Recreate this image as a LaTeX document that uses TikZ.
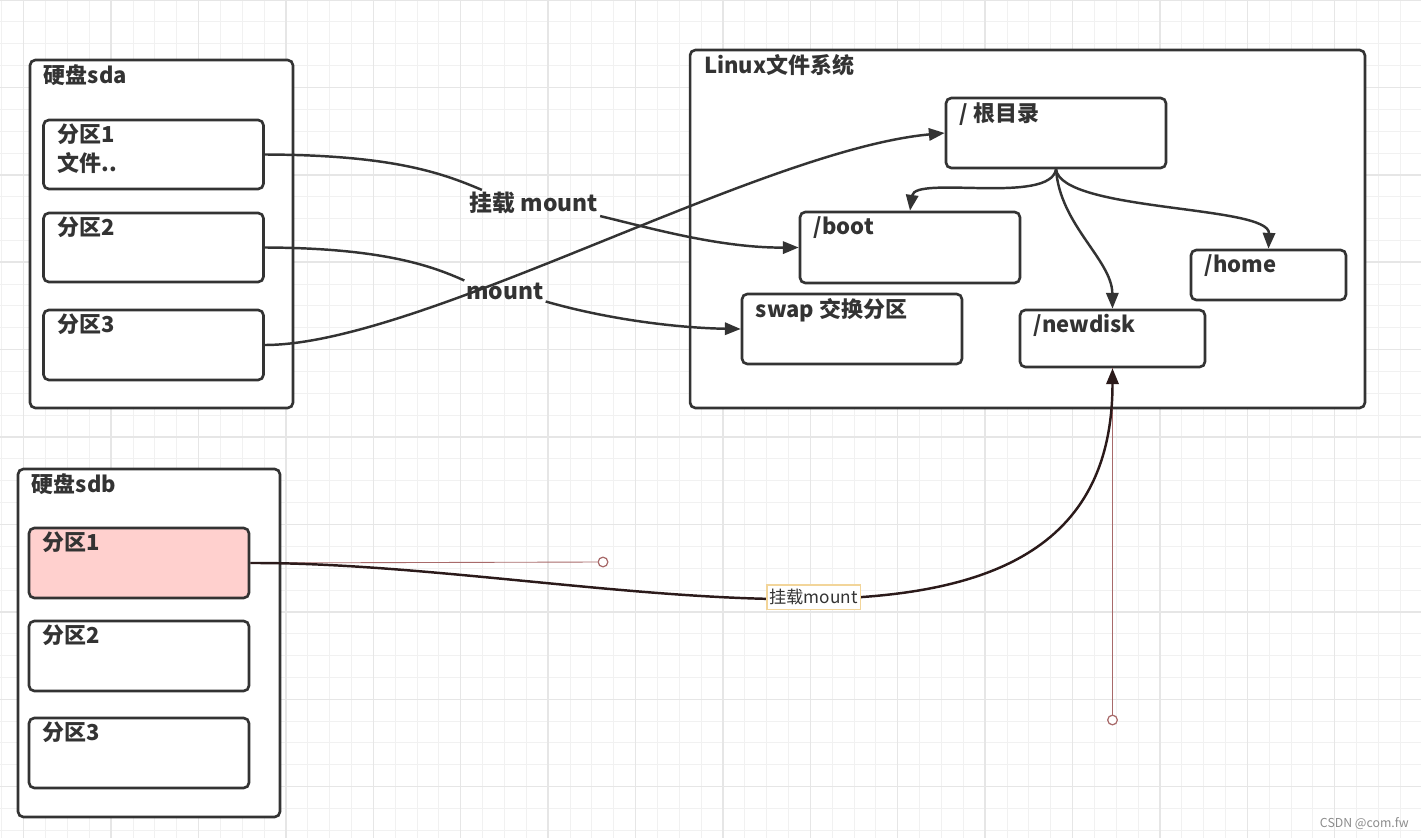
\documentclass[tikz,border=0pt]{standalone}
\usepackage{fontspec}
\setmainfont{Noto Sans CJK SC}
\usetikzlibrary{arrows.meta}
\definecolor{ink}{HTML}{333333}
\definecolor{selink}{HTML}{2B1A1A}
\definecolor{minorgrid}{HTML}{F1F1F1}
\definecolor{majorgrid}{HTML}{E6E6E6}
\definecolor{partpink}{HTML}{FFD0CE}
\definecolor{handlered}{HTML}{A86A6A}
\definecolor{tagedge}{HTML}{F2D59A}
\tikzset{
  gridminor/.style={draw=minorgrid, line width=0.5pt},
  gridmajor/.style={draw=majorgrid, line width=0.8pt},
  frame/.style={draw=ink, line width=1.5pt, rounded corners=3pt, fill=white, inner sep=0pt},
  part/.style={frame, minimum width=4.4cm, minimum height=1.4cm},
  title/.style={anchor=north west, inner sep=0pt, xshift=8.5pt, yshift=-3pt, align=left, text=ink, font=\bfseries\fontsize{12.5}{16}\selectfont},
  mnt/.style={inner sep=1pt, text=ink, font=\bfseries\fontsize{13}{16}\selectfont},
  plain/.style={draw=ink, line width=1.4pt},
  link/.style={plain, -{Triangle[length=9pt,width=7pt]}},
  handle/.style={draw=handlered, line width=0.5pt},
  knob/.style={circle, draw=handlered, fill=white, line width=0.7pt, minimum size=5.5pt, inner sep=0pt},
  tag/.style={fill=white, draw=tagedge, line width=1pt, inner sep=1.5pt, minimum height=14pt, text=ink, font=\fontsize{9.8}{11}\selectfont}
}
\begin{document}
\begin{tikzpicture}[x=0.02cm, y=-0.02cm]
  \path[use as bounding box, fill=white] (0,0) rectangle (1421,838);
  % background grid
  \foreach \i in {0,...,65}
    \draw[gridminor] (1.85+21.85*\i,0) -- (1.85+21.85*\i,838);
  \foreach \j in {0,...,38}
    \draw[gridminor] (0,21.85*\j) -- (1421,21.85*\j);
  \foreach \k in {0,...,16}
    \draw[gridmajor] (23.7+87.4*\k,0) -- (23.7+87.4*\k,838);
  \foreach \k in {0,...,9}
    \draw[gridmajor] (0,87.4*\k) -- (1421,87.4*\k);

  % disk sda
  \node[frame, minimum width=5.26cm, minimum height=6.96cm] (sda) at (161.5,234) {};
  \node[title] (sdaT) at (sda.north west) {硬盘sda};
  \node[part, minimum height=1.38cm] (sdaA) at (153.5,154.5) {};
  \node[title] (sdaAT) at (sdaA.north west) {分区1\\文件..};
  \node[part, minimum height=1.38cm] (sdaB) at (153.5,247.5) {};
  \node[title] (sdaBT) at (sdaB.north west) {分区2};
  \node[part] (sdaC) at (153.5,345) {};
  \node[title] (sdaCT) at (sdaC.north west) {分区3};

  % linux file system
  \node[frame, minimum width=13.5cm, minimum height=7.16cm] (linux) at (1027.5,229) {};
  \node[title] (linuxT) at (linux.north west) {Linux文件系统};
  \node[part] (root) at (1056,133) {};
  \node[title] (rootT) at (root.north west) {/ 根目录};
  \node[part, minimum height=1.42cm] (boot) at (910,247.5) {};
  \node[title] (bootT) at (boot.north west) {/boot};
  \node[part] (swap) at (852,329) {};
  \node[title] (swapT) at (swap.north west) {swap 交换分区};
  \node[part, minimum width=3.7cm, minimum height=1.14cm] (newdisk) at (1112.5,338.5) {};
  \node[title] (newdiskT) at (newdisk.north west) {/newdisk};
  \node[part, minimum width=3.1cm, minimum height=1cm] (home) at (1268.5,275) {};
  \node[title] (homeT) at (home.north west) {/home};

  % disk sdb
  \node[frame, minimum width=5.24cm, minimum height=6.96cm] (sdb) at (149,643) {};
  \node[title] (sdbT) at (sdb.north west) {硬盘sdb};
  \node[part, fill=partpink] (sdbA) at (139,563) {};
  \node[title] (sdbAT) at (sdbA.north west) {分区1};
  \node[part] (sdbB) at (139,656) {};
  \node[title] (sdbBT) at (sdbB.north west) {分区2};
  \node[part] (sdbC) at (139,753) {};
  \node[title] (sdbCT) at (sdbC.north west) {分区3};

  % mounts of sda
  \node[mnt] (mntA) at (534,203) {挂载 mount};
  \node[mnt] (mntB) at (505,291) {mount};
  \draw[plain] (sdaA.east) .. controls (390,155) and (440,172) .. ([xshift=8pt]mntA.north west);
  \draw[link] (mntA.south east) .. controls (650,228) and (720,248) .. (boot.west);
  \draw[plain] (sdaB.east) .. controls (380,248) and (430,265) .. (mntB.north west);
  \draw[link] (mntB.south east) .. controls (610,320) and (680,328) .. (swap.west);
  \draw[link] (sdaC.east) .. controls (420,345) and (760,150) .. (root.west);

  % tree under root
  \draw[link] (root.south) .. controls (1050,205) and (915,175) .. (boot.north);
  \draw[link] (root.south) .. controls (1062,212) and (1270,205) .. (home.north);
  \draw[link] (root.south) .. controls (1060,225) and (1112,260) .. (newdisk.north);

  % mount of sdb, edge selected with its handles
  \node[knob] (hA) at (603,562) {};
  \node[knob] (hB) at (1112.5,720) {};
  \draw[handle] (sdbA.east) -- (hA);
  \draw[handle] (newdisk.south) -- (hB);
  \draw[link, draw=selink] (sdbA.east) .. controls (hA.center) and (hB.center) .. node[tag] (mntC) {挂载mount} (newdisk.south);

  \node[anchor=east, inner sep=0pt, text=black!45, font=\fontsize{7}{8}\selectfont] (mark) at (1409,824) {CSDN @com.fw};
\end{tikzpicture}
\end{document}
